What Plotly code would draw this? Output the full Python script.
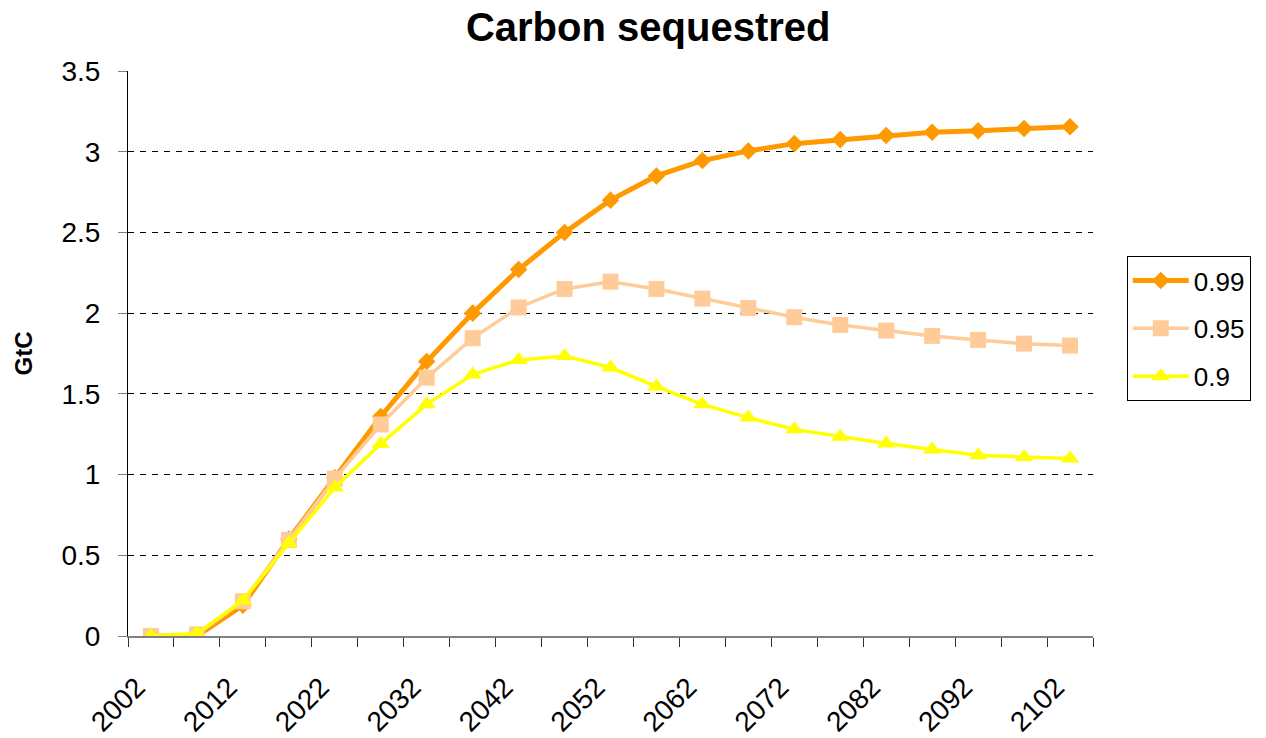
import plotly.graph_objects as go

years = [2002, 2007, 2012, 2017, 2022, 2027, 2032, 2037, 2042, 2047, 2052,
         2057, 2062, 2067, 2072, 2077, 2082, 2087, 2092, 2097, 2102]
tick_years = [2002, 2012, 2022, 2032, 2042, 2052, 2062, 2072, 2082, 2092, 2102]

s099 = [0.0, 0.0, 0.19, 0.60, 0.98, 1.36, 1.70, 2.00, 2.27, 2.50, 2.70,
        2.85, 2.945, 3.005, 3.05, 3.075, 3.10, 3.12, 3.13, 3.144, 3.155]
s095 = [0.0, 0.01, 0.215, 0.595, 0.975, 1.31, 1.60, 1.845, 2.035, 2.15, 2.195,
        2.15, 2.09, 2.032, 1.975, 1.927, 1.892, 1.859, 1.834, 1.811, 1.799]
s090 = [0.0, 0.015, 0.22, 0.575, 0.92, 1.19, 1.435, 1.62, 1.71, 1.735, 1.663,
        1.545, 1.435, 1.353, 1.28, 1.235, 1.193, 1.156, 1.119, 1.109, 1.099]

series = [
    ("0.99", s099, "#FF9900", 5, "diamond", 13.5),
    ("0.95", s095, "#FFCC99", 3.5, "square", 16),
    ("0.9", s090, "#FFFF00", 3.5, "triangle-up", 16),
]

fig = go.Figure()
for name, vals, color, lw, sym, ms in series:
    fig.add_trace(go.Scatter(
        x=years, y=vals, name=name, mode="lines+markers", legendgroup=name,
        line=dict(color=color, width=lw),
        marker=dict(symbol=sym, size=ms, color=color, line=dict(width=0)),
    ))

font = "Liberation Sans, Arial, sans-serif"
fig.update_layout(
    width=1266, height=738,
    paper_bgcolor="white", plot_bgcolor="white",
    margin=dict(l=128, r=173, t=71, b=102),
    font=dict(family=font, size=28, color="black"),
    title=dict(text="<b>Carbon sequestred</b>", x=0.512, xanchor="center",
               y=0.963, yanchor="middle", font=dict(size=40, family=font)),
    showlegend=True,
    legend=dict(x=1.035, xanchor="left", y=0.544, yanchor="middle",
                bordercolor="black", borderwidth=1, bgcolor="white",
                font=dict(size=26, family=font), itemwidth=56,
                tracegroupgap=11),
    xaxis=dict(
        range=[1999.5, 2104.5], tickmode="array", tickvals=tick_years,
        ticktext=[str(t) for t in tick_years], tickangle=-45,
        ticks="", showgrid=False, zeroline=False, automargin=False,
        showline=True, linecolor="#808080", linewidth=1.5,
        ticklabelstandoff=22, ticklabelshift=-14,
        minor=dict(ticks="outside", tick0=1999.5, dtick=5, ticklen=9,
                   tickcolor="#333333", tickwidth=1, showgrid=False),
    ),
    yaxis=dict(
        range=[0, 3.5], dtick=0.5, showgrid=True, automargin=False,
        gridcolor="black", griddash="6px,6px", gridwidth=1,
        zeroline=False, showline=True, linecolor="black", linewidth=1,
        ticks="outside", ticklen=9, tickcolor="#808080",
        ticklabelstandoff=12,
        title=dict(text="<b>GtC</b>", font=dict(size=24, family=font), standoff=22),
    ),
)

fig.write_html("out.html", config={"displayModeBar": False},
               post_script="document.body.style.margin='0';")
